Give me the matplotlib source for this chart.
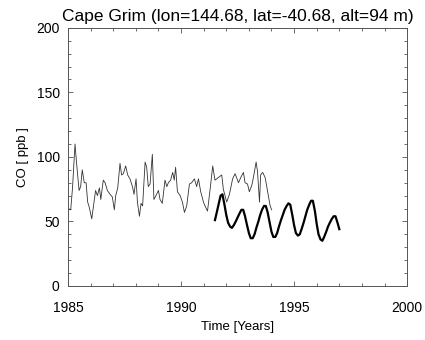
import matplotlib
matplotlib.use('Agg')
import matplotlib.pyplot as plt
from matplotlib.ticker import MultipleLocator

plt.rcParams['font.family'] = ['Liberation Sans', 'DejaVu Sans']

# thin line: monthly-ish record, 1985 - 1994
thin_time = [1985.00, 1985.01, 1985.12, 1985.20, 1985.31, 1985.38, 1985.49, 1985.56,
             1985.63, 1985.72, 1985.80, 1985.87, 1985.94, 1986.05, 1986.12, 1986.22,
             1986.30, 1986.39, 1986.45, 1986.56, 1986.64, 1986.74, 1986.86, 1986.96,
             1987.05, 1987.11, 1987.20, 1987.30, 1987.37, 1987.45, 1987.55, 1987.64,
             1987.74, 1987.85, 1987.92, 1988.01, 1988.07, 1988.16, 1988.23, 1988.30,
             1988.41, 1988.48, 1988.55, 1988.63, 1988.73, 1988.80, 1988.89, 1989.00,
             1989.07, 1989.17, 1989.29, 1989.37, 1989.44, 1989.54, 1989.63, 1989.70,
             1989.76, 1989.84, 1989.96, 1990.06, 1990.15, 1990.25, 1990.37, 1990.47,
             1990.59, 1990.69, 1990.77, 1990.87, 1990.99, 1991.06, 1991.17, 1991.28,
             1991.40, 1991.50, 1991.65, 1991.80, 1991.87, 1992.02, 1992.14, 1992.28,
             1992.39, 1992.54, 1992.64, 1992.76, 1992.83, 1992.94, 1993.02, 1993.13,
             1993.20, 1993.32, 1993.38, 1993.47, 1993.52, 1993.61, 1993.72, 1993.82,
             1993.94, 1994.01]
thin_co = [53, 60, 59, 76, 110, 95, 74, 77,
           90, 80, 80, 65, 61, 52, 61, 74,
           70, 76, 67, 82, 80, 74, 71, 69,
           59, 70, 76, 95, 86, 87, 93, 86,
           83, 77, 71, 83, 65, 54, 64, 62,
           96, 92, 77, 79, 102, 67, 70, 74,
           67, 64, 82, 77, 80, 82, 88, 82,
           92, 73, 70, 65, 57, 62, 79, 80,
           83, 77, 83, 73, 65, 62, 58, 74,
           93, 82, 84, 86, 75, 65, 71, 83,
           87, 80, 84, 88, 80, 79, 73, 78,
           84, 96, 89, 65, 86, 88, 84, 74,
           62, 59]

# thick line: 1991.5 - 1997
thick_time = [1991.50, 1991.58, 1991.67, 1991.75, 1991.83, 1991.92, 1992.00, 1992.08,
              1992.17, 1992.25, 1992.33, 1992.42, 1992.50, 1992.58, 1992.67, 1992.75,
              1992.83, 1992.92, 1993.00, 1993.08, 1993.17, 1993.25, 1993.33, 1993.42,
              1993.50, 1993.58, 1993.67, 1993.75, 1993.83, 1993.92, 1994.00, 1994.08,
              1994.17, 1994.25, 1994.33, 1994.42, 1994.50, 1994.58, 1994.67, 1994.75,
              1994.83, 1994.92, 1995.00, 1995.08, 1995.17, 1995.25, 1995.33, 1995.42,
              1995.50, 1995.58, 1995.67, 1995.75, 1995.83, 1995.92, 1996.00, 1996.08,
              1996.17, 1996.25, 1996.33, 1996.42, 1996.50, 1996.58, 1996.67, 1996.75,
              1996.83, 1996.92, 1997.00]
thick_co = [51, 57, 64, 70, 71, 63, 55, 49,
            46, 45, 47, 50, 53, 56, 59, 59,
            54, 47, 41, 37, 37, 40, 45, 50,
            55, 59, 62, 62, 57, 49, 42, 38,
            38, 41, 46, 51, 55, 59, 62, 64,
            63, 55, 47, 41, 39, 40, 44, 49,
            54, 59, 63, 66, 66, 58, 48, 40,
            36, 35, 38, 42, 46, 49, 52, 54,
            54, 49, 44]

fig = plt.figure(figsize=(4.25, 3.4), dpi=100)
ax = fig.add_axes([0.16, 0.159, 0.798, 0.759])

ax.plot(thin_time, thin_co, color='#333333', lw=0.6)
ax.plot(thick_time, thick_co, color='black', lw=1.6)

ax.set_xlim(1985, 2000)
ax.set_ylim(0, 200)
ax.xaxis.set_major_locator(MultipleLocator(5))
ax.xaxis.set_minor_locator(MultipleLocator(1))
ax.yaxis.set_major_locator(MultipleLocator(50))
ax.yaxis.set_minor_locator(MultipleLocator(10))
ax.tick_params(which='both', direction='in', top=True, right=True, labelsize=10,
               color='#555555', width=0.6)
ax.tick_params(which='major', length=3.5)
ax.tick_params(axis='x', which='major', pad=11)
ax.tick_params(axis='y', which='major', pad=6)
ax.tick_params(which='minor', length=2)
for s in ax.spines.values():
    s.set_color('#555555')
    s.set_linewidth(0.7)

ax.set_title('Cape Grim (lon=144.68, lat=-40.68, alt=94 m)', fontsize=12.5, pad=5)
ax.set_xlabel('Time [Years]', fontsize=9.5, labelpad=4)
ax.set_ylabel('CO [ ppb ]', fontsize=9.5, labelpad=5)

fig.savefig('out.png', dpi=100)
